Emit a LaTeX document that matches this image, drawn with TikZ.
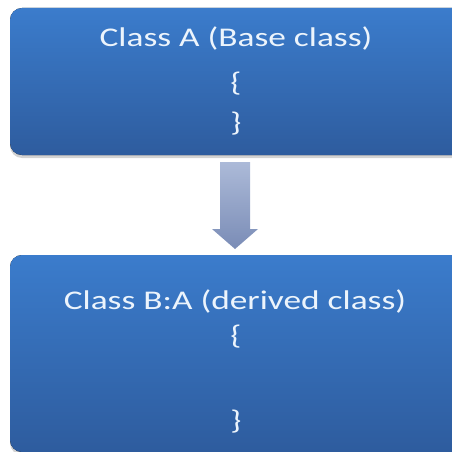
\documentclass[tikz,border=0pt]{standalone}
\usepackage{fontspec}
\setmainfont{Carlito}
\usetikzlibrary{shadows,calc}
\definecolor{boxtop}{RGB}{59,124,204}
\definecolor{boxbot}{RGB}{46,92,158}
\definecolor{arrtop}{RGB}{172,186,216}
\definecolor{arrbot}{RGB}{122,140,182}
\definecolor{txt}{RGB}{236,244,252}
\tikzset{
  classbox/.style={rounded corners=12pt, top color=boxtop, bottom color=boxbot,
    draw=none, drop shadow={shadow xshift=0pt, shadow yshift=-3pt, opacity=0.35}},
  boxtext/.style={text=txt, font=\fontsize{27}{32}\selectfont, inner sep=0pt,
    xscale=1.31, transform shape},
}
\begin{document}
\begin{tikzpicture}[x=1pt,y=-1pt]
\useasboundingbox (0,0) rectangle (452,452);
\clip (0,0) rectangle (452,452);
\fill[classbox] (10,8) rectangle (470,155);
\fill[classbox] (10,255) rectangle (470,452);
\node[boxtext] (ta) at (236,38) {Class A (Base class)};
\node[boxtext] (tao) at (236,84) {\{};
\node[boxtext] (tac) at (236,124) {\}};
\node[boxtext] (tb) at (235,301) {Class B:A (derived class)};
\node[boxtext] (tbo) at (236,337) {\{};
\node[boxtext] (tbc) at (236,422) {\}};
\shade[top color=arrtop, bottom color=arrbot]
  (220,162) -- (250,162) -- (250,229) -- (258,229) -- (235,249) -- (212,229) -- (220,229) -- cycle;
\end{tikzpicture}
\end{document}
